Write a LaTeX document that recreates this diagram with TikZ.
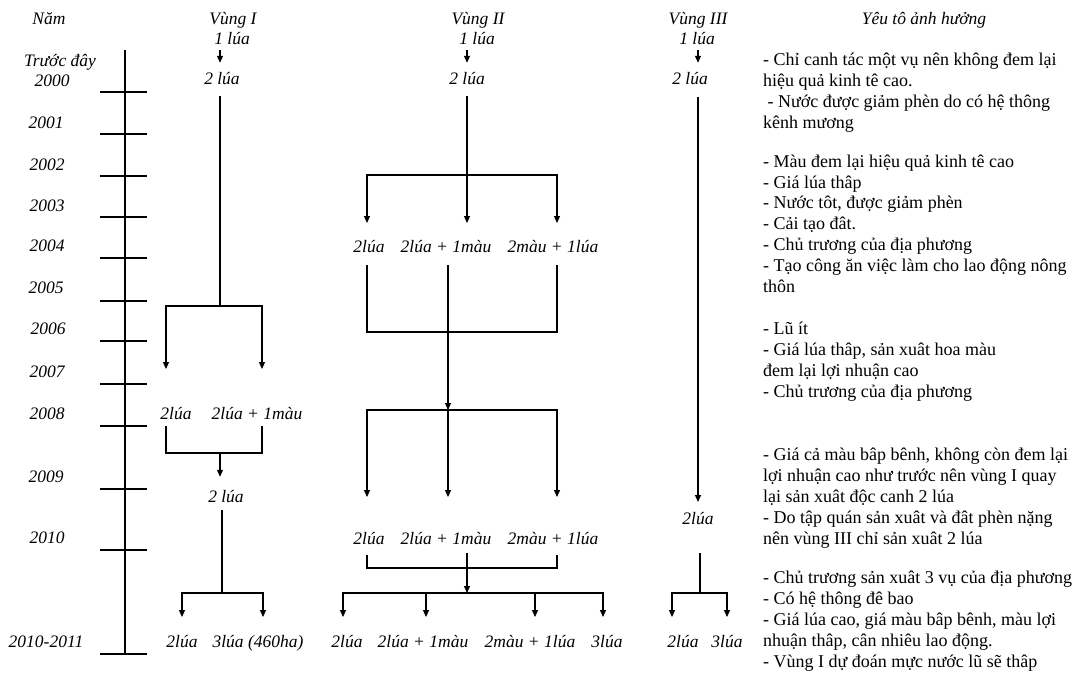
\documentclass[tikz,border=0pt]{standalone}
\usepackage{fontspec}
\setmainfont{Liberation Serif}
\usetikzlibrary{arrows.meta,positioning}

\tikzset{
  lab/.style={font=\fontsize{17.5}{20}\selectfont\itshape,inner sep=0pt,text height=12pt,text depth=4pt},
  note/.style={font=\fontsize{18}{20.8}\selectfont,align=left,anchor=base west,inner sep=0pt},
  link/.style={line width=1.2pt},
  arr/.style={link,-{Triangle[width=6pt,length=7pt]}},
  twoarr/.style={link,{Triangle[width=6pt,length=7pt]}-{Triangle[width=6pt,length=7pt]}},
  seed/.style={arr,shorten <=2pt,shorten >=9pt},
}

\begin{document}
\begin{tikzpicture}[x=1pt,y=-1pt]
  \path[fill=white] (0,0) rectangle (1075,673);
  \useasboundingbox (0,0) rectangle (1075,673);

  % time axis
  \coordinate (axtop) at (125,50);
  \coordinate (axbot) at (125,654);
  \draw[link] (axtop) -- (axbot);
  \foreach \y [count=\i] in {92,134,176,217,258,301,341,384,426,489,550,654}
    \draw[link] (100,\y) coordinate (tick\i) -- (147,\y);

  \node[lab] (nam) at (49,20) {Năm};
  \foreach \x/\y/\t [count=\i] in {60/62/Trước đây,52/82/2000,46/124/2001,47/166/2002,
      47/207/2003,47/247/2004,46/289/2005,48/330/2006,47/373/2007,47/415/2008,
      46/478/2009,47/539/2010,46/643/2010-2011}
    \node[lab] (yr\i) at (\x,\y) {\t};

  % Vung I
  \node[lab] (v1) at (233,20) {Vùng I};
  \node[lab] (v1a) at (232,40) {1 lúa};
  \node[lab] (v1b) at (222,80) {2 lúa};
  \coordinate (I1) at (220,306);
  \coordinate (I1l) at (166,369);
  \coordinate (I1r) at (262,369);
  \draw[seed] (v1a.south -| I1) -- (v1b.north -| I1);
  \draw[link,shorten <=8pt] (v1b.south -| I1) -- (I1);
  \draw[twoarr] (I1l) |- (I1) -| (I1r);

  \node[lab] (i2a) at (176,415) {2lúa};
  \node[lab] (i2b) at (257,415) {2lúa + 1màu};
  \coordinate (I2) at (220,453);
  \node[lab] (i3) at (226,498) {2 lúa};
  \draw[link,shorten <=3pt,shorten >=3pt] (i2a.south -| I1l) |- (I2) -| (i2b.south -| I1r);
  \draw[arr,shorten >=13pt] (I2) -- (i3.north -| I2);

  \coordinate (I3) at (222,593);
  \coordinate (I3l) at (182,617);
  \coordinate (I3r) at (263,617);
  \draw[link,shorten <=4pt] (i3.south -| I3) -- (I3);
  \draw[twoarr] (I3l) |- (I3) -| (I3r);
  \node[lab] (i4a) at (182,643) {2lúa};
  \node[lab] (i4b) at (258,643) {3lúa (460ha)};

  % Vung II
  \node[lab] (v2) at (478,20) {Vùng II};
  \node[lab] (v2a) at (477,40) {1 lúa};
  \node[lab] (v2b) at (467,80) {2 lúa};
  \coordinate (II1) at (467,175);
  \coordinate (II1l) at (367,223);
  \coordinate (II1m) at (467,223);
  \coordinate (II1r) at (557,223);
  \draw[seed] (v2a.south -| II1) -- (v2b.north -| II1);
  \draw[arr,shorten <=8pt] (v2b) -- (II1m);
  \draw[twoarr] (II1l) |- (II1) -| (II1r);

  \node[lab] (j2a) at (369,248) {2lúa};
  \node[lab] (j2b) at (446,248) {2lúa + 1màu};
  \node[lab] (j2c) at (553,248) {2màu + 1lúa};
  \coordinate (II2) at (448,332);
  \coordinate (II3) at (448,410);
  \coordinate (II3l) at (367,497);
  \coordinate (II3m) at (448,497);
  \coordinate (II3r) at (557,497);
  \draw[link,shorten <=9pt,shorten >=9pt] (j2a.south -| II1l) |- (II2) -| (j2c.south -| II1r);
  \draw[arr,shorten <=9pt] (j2b.south -| II2) -- (II3);
  \draw[twoarr] (II3l) |- (II3) -| (II3r);
  \draw[arr] (II3) -- (II3m);

  \node[lab] (k2a) at (369,540) {2lúa};
  \node[lab] (k2b) at (446,540) {2lúa + 1màu};
  \node[lab] (k2c) at (553,540) {2màu + 1lúa};
  \coordinate (II4) at (467,568);
  \coordinate (II5) at (467,593);
  \coordinate (II5l) at (343,617);
  \coordinate (II5b) at (426,617);
  \coordinate (II5c) at (535,617);
  \coordinate (II5r) at (603,617);
  \draw[link,shorten <=7pt,shorten >=7pt] (k2a.south -| II3l) |- (II4) -| (k2c.south -| II3r);
  \draw[arr,shorten <=5pt] (k2b.south -| II5) -- (II5);
  \draw[twoarr] (II5l) |- (II5) -| (II5r);
  \draw[arr] (II5 -| II5b) -- (II5b);
  \draw[arr] (II5 -| II5c) -- (II5c);

  \node[lab] (l2a) at (347,643) {2lúa};
  \node[lab] (l2b) at (423,643) {2lúa + 1màu};
  \node[lab] (l2c) at (530,643) {2màu + 1lúa};
  \node[lab] (l2d) at (607,643) {3lúa};

  % Vung III
  \node[lab] (v3) at (698,20) {Vùng III};
  \node[lab] (v3a) at (697,40) {1 lúa};
  \node[lab] (v3b) at (690,80) {2 lúa};
  \coordinate (III1) at (698,502);
  \draw[seed] (v3a.south -| III1) -- (v3b.north -| III1);
  \draw[arr,shorten <=9pt] (v3b.south -| III1) -- (III1);
  \node[lab] (m3) at (698,520) {2lúa};
  \coordinate (III2) at (700,593);
  \coordinate (III2l) at (672,617);
  \coordinate (III2r) at (727,617);
  \draw[link,shorten <=25pt] (m3.south -| III2) -- (III2);
  \draw[twoarr] (III2l) |- (III2) -| (III2r);
  \node[lab] (n3a) at (683,643) {2lúa};
  \node[lab] (n3b) at (727,643) {3lúa};

  % Yeu to anh huong
  \node[lab] (yeuto) at (924,20) {Yêu tô ảnh hưởng};
  \node[note] (f1) at (763,128) {- Chỉ canh tác một vụ nên không đem lại\\
    hiệu quả kinh tê cao.\\
    \ - Nước được giảm phèn do có hệ thông\\
    kênh mương};
  \node[note] (f2) at (763,292) {- Màu đem lại hiệu quả kinh tê cao\\
    - Giá lúa thâp\\
    - Nước tôt, được giảm phèn\\
    - Cải tạo đât.\\
    - Chủ trương của địa phương\\
    - Tạo công ăn việc làm cho lao động nông\\
    thôn};
  \node[note] (f3) at (763,397) {- Lũ ít\\
    - Giá lúa thâp, sản xuât hoa màu\\
    đem lại lợi nhuận cao\\
    - Chủ trương của địa phương};
  \node[note] (f4) at (763,544) {- Giá cả màu bâp bênh, không còn đem lại\\
    lợi nhuận cao như trước nên vùng I quay\\
    lại sản xuât độc canh 2 lúa\\
    - Do tập quán sản xuât và đât phèn nặng\\
    nên vùng III chỉ sản xuât 2 lúa};
  \node[note] (f5) at (763,667) {- Chủ trương sản xuât 3 vụ của địa phương\\
    - Có hệ thông đê bao\\
    - Giá lúa cao, giá màu bâp bênh, màu lợi\\
    nhuận thâp, cân nhiêu lao động.\\
    - Vùng I dự đoán mực nước lũ sẽ thâp};
\end{tikzpicture}
\end{document}
